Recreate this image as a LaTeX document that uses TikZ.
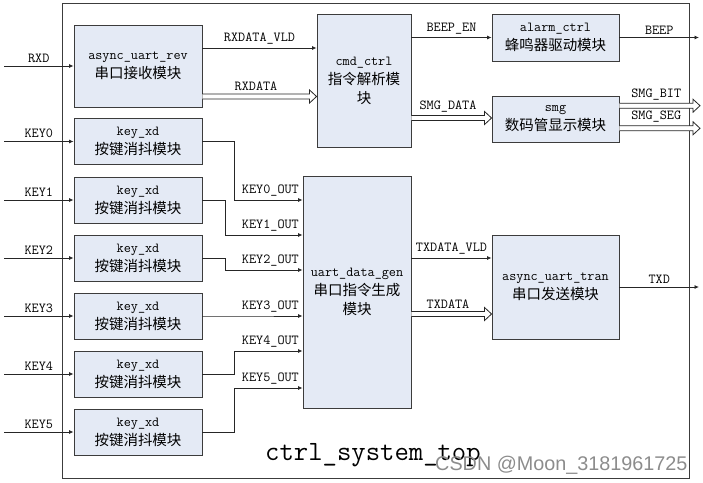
\documentclass[tikz,border=0pt]{standalone}
\usepackage{fontspec}
\newfontfamily\cjk[Scale=1.05]{Noto Sans CJK SC}
\newfontfamily\wmfont{Liberation Sans}
\usetikzlibrary{arrows.meta, calc}
\definecolor{blkfill}{RGB}{228,234,245}
\definecolor{edge}{RGB}{60,60,60}

\newcommand{\bus}[3]{%
	\draw[bus] ($(#1)+(0,2.5pt)$) -- node[lbl] {#3} ($(#2)+(-7pt,2.5pt)$) -- ($(#2)+(-7pt,6.5pt)$) -- (#2)
		-- ($(#2)+(-7pt,-6.5pt)$) -- ($(#2)+(-7pt,-2.5pt)$) -- ($(#1)+(0,-2.5pt)$);}

\begin{document}
\begin{tikzpicture}[x = 1pt, y = -1pt,
		font = \ttfamily\fontsize{13.8}{19}\selectfont,
		blk/.style = {draw = edge, line width = .9pt, fill = blkfill, align = center, inner sep = 1pt},
		sig/.style = {draw = black!85, line width = .8pt, -{Latex[length = 4.5pt, width = 4pt]}},
		bus/.style = {draw = black!85, line width = .8pt, fill = white},
		lbl/.style = {above, inner sep = 3pt}]
		\useasboundingbox (0,0) rectangle (703,482);
		\draw[draw = edge, line width = .9pt] (62,3) rectangle (689,478);

		\node[blk, minimum width = 128pt, minimum height = 82pt] (rev) at (138,66) {async\_uart\_rev\\{\cjk 串口接收模块}};
		\node[blk, minimum width = 94pt, minimum height = 133pt] (cmd) at (364,80.5) {cmd\_ctrl\\{\cjk 指令解析模}\\{\cjk 块}};
		\node[blk, minimum width = 127pt, minimum height = 47pt] (alarm) at (555.5,37.5) {alarm\_ctrl\\{\cjk 蜂鸣器驱动模块}};
		\node[blk, minimum width = 127pt, minimum height = 46pt] (smg) at (555.5,119) {smg\\{\cjk 数码管显示模块}};
		\node[blk, minimum width = 108pt, minimum height = 232pt] (gen) at (357,292) {uart\_data\_gen\\{\cjk 串口指令生成}\\{\cjk 模块}};
		\node[blk, minimum width = 127pt, minimum height = 104pt] (tran) at (555.5,287) {async\_uart\_tran\\{\cjk 串口发送模块}};

		\coordinate (rxd) at (4,66);
		\coordinate (beep) at (699,37.5);
		\coordinate (smgbit) at (700,105.7);
		\coordinate (smgseg) at (700,128.3);
		\coordinate (txd) at (699,287);

		\draw[sig] (rxd) -- node[lbl] {RXD} (rev.west);
		\draw[sig] (rev.east |- 0,48) -- node[lbl] {RXDATA\_VLD} (cmd.west |- 0,48);
		\bus{rev.east |- 0,96.5}{cmd.west |- 0,96.5}{RXDATA}
		\draw[sig] (cmd.east |- alarm.west) -- node[lbl] {BEEP\_EN} (alarm.west);
		\draw[sig] (alarm.east) -- node[lbl] {BEEP} (beep);
		\bus{cmd.east |- 0,118}{smg.west |- 0,118}{SMG\_DATA}
		\bus{smg.east |- smgbit}{smgbit}{SMG\_BIT}
		\bus{smg.east |- smgseg}{smgseg}{SMG\_SEG}

		\foreach \i/\ky/\bx/\oy in {0/141.5/234/200, 1/200/225/235, 2/258/225/270, 3/316/250/316, 4/374/234/351, 5/432/234/388}{
			\node[blk, minimum width = 128pt, minimum height = 46pt] (key\i) at (138,\ky) {key\_xd\\{\cjk 按键消抖模块}};
			\coordinate (in\i) at (4,\ky);
			\draw[sig] (in\i) -- node[lbl] {KEY\i} (key\i.west);
			\draw[sig] (key\i.east) -- (\bx,\ky) |- (gen.west |- 0,\oy) node[above left] {KEY\i\_OUT};}

		\draw[sig] (gen.east |- 0,258) -- node[lbl] {TXDATA\_VLD} (tran.west |- 0,258);
		\bus{gen.east |- 0,314}{tran.west |- 0,314}{TXDATA}
		\draw[sig] (tran.east) -- node[lbl] {TXD} (txd);

		\node[anchor = base west, inner sep = 0pt, font = \ttfamily\fontsize{27.9}{30}\selectfont] (title) at (265,460) {ctrl\_system\_top};
		\node[anchor = base west, inner sep = 0pt, text = black!45, font = \wmfont\fontsize{19.8}{22}\selectfont] (mark) at (435,470) {CSDN @Moon\_3181961725};
\end{tikzpicture}
\end{document}
